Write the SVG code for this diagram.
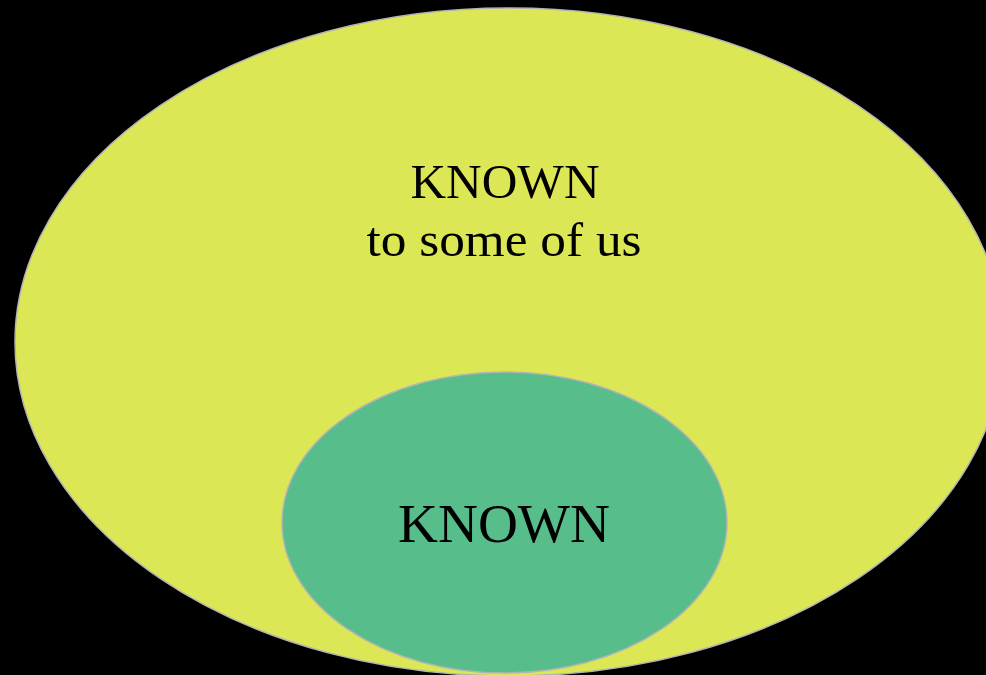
<svg xmlns="http://www.w3.org/2000/svg" width="986" height="675" viewBox="0 0 986 675">
  <style>
    .lbl { font-family: "Liberation Serif", "DejaVu Serif", serif; fill: #000000; text-anchor: middle; }
    .edge { stroke: #b4b4b4; stroke-width: 1.5; }
  </style>
  <rect x="0" y="0" width="986" height="675" fill="#000000"/>
  <g id="known-to-some">
    <ellipse class="edge" cx="509" cy="342" rx="494" ry="334" fill="#dce755"/>
    <text class="lbl" x="505" y="198" font-size="49" textLength="189" lengthAdjust="spacingAndGlyphs">KNOWN</text>
    <text class="lbl" x="504" y="256" font-size="49" textLength="275" lengthAdjust="spacingAndGlyphs">to some of us</text>
  </g>
  <g id="known">
    <ellipse class="edge" cx="504.5" cy="522.5" rx="222.5" ry="150.5" fill="#57bd8a"/>
    <text class="lbl" x="504" y="542" font-size="54" textLength="212" lengthAdjust="spacingAndGlyphs">KNOWN</text>
  </g>
  <g id="connectors"/>
</svg>
